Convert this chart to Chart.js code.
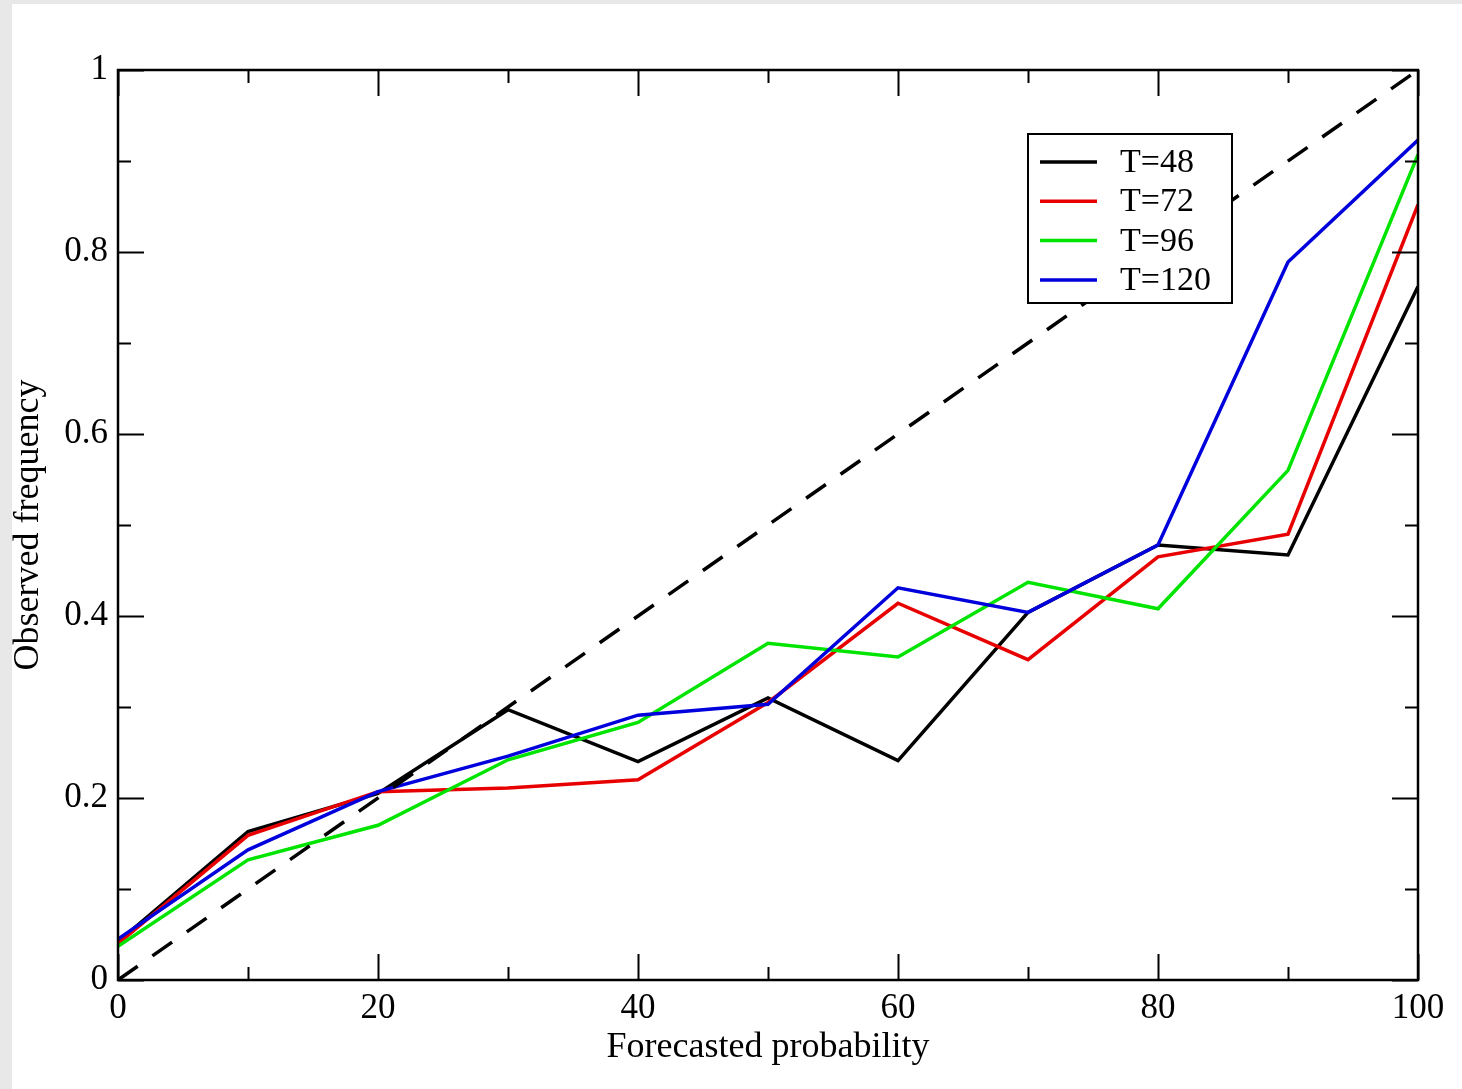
<!DOCTYPE html>
<html>
<head>
<meta charset="utf-8">
<script src="https://cdn.jsdelivr.net/npm/chart.js@4/dist/chart.umd.min.js"></script>
<style>
  body { margin: 0; background: #e8e8e8; }
  .frame { position: absolute; left: 12px; top: 4px; width: 1450px; height: 1085px; background: #fff; }
</style>
</head>
<body>
<div class="frame"><canvas id="chart" width="1450" height="1085"></canvas></div>
<script>
// forecast probability bins (%)
const probs = [0, 10, 20, 30, 40, 50, 60, 70, 80, 90, 100];

// observed frequency per lead time
const t48  = [0.042, 0.163, 0.205, 0.297, 0.240, 0.310, 0.241, 0.404, 0.478, 0.467, 0.762];
const t72  = [0.040, 0.159, 0.207, 0.211, 0.220, 0.305, 0.414, 0.352, 0.465, 0.490, 0.852];
const t96  = [0.037, 0.132, 0.170, 0.242, 0.283, 0.370, 0.355, 0.437, 0.408, 0.560, 0.907];
const t120 = [0.045, 0.143, 0.207, 0.246, 0.291, 0.303, 0.431, 0.404, 0.478, 0.789, 0.923];

// perfect reliability diagonal
const diagX = [0, 100];
const diagY = [0, 1];

// labelled ticks
const xTickValues = [0, 20, 40, 60, 80, 100];
const yTickValues = [0, 0.2, 0.4, 0.6, 0.8, 1];

const serif = '"Liberation Serif", "DejaVu Serif", serif';

const toPoints = (xs, ys) => xs.map((x, i) => ({ x: x, y: ys[i] }));

const series = (label, values, color, order) => ({
  label: label,
  data: toPoints(probs, values),
  borderColor: color,
  backgroundColor: color,
  borderWidth: 3.5,
  pointRadius: 0,
  tension: 0,
  order: order
});

// inward ticks on all four sides + plot frame
const frameTicks = {
  id: 'frameTicks',
  afterDatasetsDraw(chart) {
    const { ctx, chartArea: a, scales } = chart;
    ctx.save();
    ctx.strokeStyle = '#000';
    ctx.lineWidth = 2;
    for (let v = 0; v <= 100; v += 10) {
      const px = Math.round(scales.x.getPixelForValue(v)) + 0.5;
      const len = v % 20 === 0 ? 26 : 13;
      ctx.beginPath();
      ctx.moveTo(px, a.bottom); ctx.lineTo(px, a.bottom - len);
      ctx.moveTo(px, a.top); ctx.lineTo(px, a.top + len);
      ctx.stroke();
    }
    for (let i = 0; i <= 10; i++) {
      const py = Math.round(scales.y.getPixelForValue(i / 10)) + 0.5;
      const len = i % 2 === 0 ? 26 : 13;
      ctx.beginPath();
      ctx.moveTo(a.left, py); ctx.lineTo(a.left + len, py);
      ctx.moveTo(a.right, py); ctx.lineTo(a.right - len, py);
      ctx.stroke();
    }
    ctx.lineWidth = 2.5;
    ctx.strokeRect(a.left, a.top, a.right - a.left, a.bottom - a.top);
    ctx.restore();
  }
};

// boxed legend inside the plot
const boxLegend = {
  id: 'boxLegend',
  afterDraw(chart) {
    const { ctx, chartArea: a } = chart;
    const bx = a.left + 910, by = a.top + 64, bw = 204, bh = 169;
    ctx.save();
    ctx.fillStyle = '#fff';
    ctx.fillRect(bx, by, bw, bh);
    ctx.strokeStyle = '#000';
    ctx.lineWidth = 2;
    ctx.strokeRect(bx, by, bw, bh);
    ctx.font = '34px ' + serif;
    ctx.textBaseline = 'middle';
    ctx.textAlign = 'left';
    const items = chart.data.datasets.filter(d => d.label);
    items.forEach((d, i) => {
      const y = by + 28 + i * 39.3;
      ctx.strokeStyle = d.borderColor;
      ctx.lineWidth = 3.5;
      ctx.beginPath();
      ctx.moveTo(bx + 12, y); ctx.lineTo(bx + 69, y);
      ctx.stroke();
      ctx.fillStyle = '#000';
      ctx.fillText(d.label, bx + 92, y + 1);
    });
    ctx.restore();
  }
};

new Chart(document.getElementById('chart'), {
  type: 'line',
  data: {
    datasets: [
      series('T=48', t48, '#000000', 4),
      series('T=72', t72, '#e80000', 3),
      series('T=96', t96, '#00e400', 2),
      series('T=120', t120, '#0000dc', 1),
      {
        label: '',
        data: toPoints(diagX, diagY),
        borderColor: '#000',
        borderWidth: 3.5,
        borderDash: [24, 18],
        pointRadius: 0,
        order: 0
      }
    ]
  },
  options: {
    responsive: false,
    animation: false,
    layout: { padding: { top: 66, right: 44, left: 0, bottom: 0 } },
    plugins: {
      legend: { display: false },
      tooltip: { enabled: false }
    },
    scales: {
      x: {
        type: 'linear',
        min: 0,
        max: 100,
        afterBuildTicks: s => { s.ticks = xTickValues.map(v => ({ value: v })); },
        afterFit: s => { s.height = 109; },
        grid: { display: false, drawTicks: false },
        border: { display: false },
        ticks: { color: '#000', padding: 8, font: { family: serif, size: 35 } },
        title: {
          display: true,
          text: 'Forecasted probability',
          color: '#000',
          font: { family: serif, size: 36 },
          padding: { top: 0, bottom: 20 }
        }
      },
      y: {
        type: 'linear',
        min: 0,
        max: 1,
        afterBuildTicks: s => { s.ticks = yTickValues.map(v => ({ value: v })); },
        afterFit: s => { s.width = 106; },
        grid: { display: false, drawTicks: false },
        border: { display: false },
        ticks: {
          color: '#000',
          padding: 10,
          font: { family: serif, size: 35 },
          callback: v => String(+v.toFixed(1))
        },
        title: {
          display: true,
          text: 'Observed frequency',
          color: '#000',
          font: { family: serif, size: 36, lineHeight: 0.9 },
          padding: { top: 0, bottom: 0 }
        }
      }
    }
  },
  plugins: [frameTicks, boxLegend]
});
</script>
</body>
</html>
